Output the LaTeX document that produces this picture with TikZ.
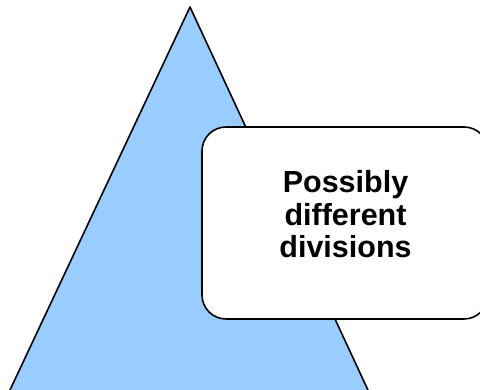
\documentclass[tikz,border=0pt]{standalone}
\usepackage{fontspec}
\setmainfont{Liberation Sans}
\usetikzlibrary{positioning}

\begin{document}
\begin{tikzpicture}[x=1pt,y=1pt]

% ---------- styles ----------
\tikzset{
  pyramid/.style={fill=skyblue, draw=black, line width=1.6pt, line join=round},
  notebox/.style={draw=black, fill=white, line width=1.6pt, rounded corners=24pt,
    minimum width=286pt, minimum height=192pt, inner sep=0pt},
  notetext/.style={font=\fontsize{30.5}{32.5}\selectfont\bfseries, align=center}
}
\definecolor{skyblue}{HTML}{99CCFF}

% ---------- frame ----------
\useasboundingbox (0,0) rectangle (480,390);
\clip (0,0) rectangle (480,390);

% ---------- triangle ----------
\coordinate (apex) at (190,383);
\coordinate (left) at (5.3,-10);
\coordinate (right) at (372.6,-10);
\draw[pyramid] (apex) -- (right) -- (left) -- cycle;

% ---------- box ----------
\node[notebox] (box) at (345,167) {};
\node[notetext] (note) at (345.5,175.5) {Possibly\\different\\divisions};

\end{tikzpicture}
\end{document}
